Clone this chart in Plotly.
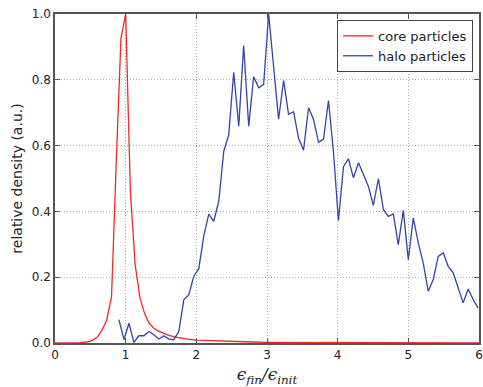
import plotly.graph_objects as go

# core particles
core_x = [0.0, 0.2, 0.35, 0.45, 0.53, 0.6, 0.667, 0.733, 0.8, 0.867, 0.933, 1.0,
          1.067, 1.133, 1.2, 1.267, 1.333, 1.4, 1.467, 1.533, 1.6, 1.7, 1.8, 1.9,
          2.0, 2.2, 2.4, 2.6, 2.8, 3.0, 3.5, 4.0, 5.0, 6.0]
core_y = [0.0, 0.0, 0.001, 0.003, 0.008, 0.018, 0.04, 0.07, 0.14, 0.55, 0.925, 1.0,
          0.46, 0.24, 0.14, 0.09, 0.06, 0.045, 0.036, 0.03, 0.024, 0.018, 0.014, 0.011,
          0.009, 0.007, 0.005, 0.004, 0.003, 0.002, 0.0015, 0.001, 0.0007, 0.0005]

# halo particles
halo_x = [0.905, 0.976, 1.046, 1.117, 1.187, 1.258, 1.329, 1.399, 1.47, 1.54,
          1.611, 1.681, 1.752, 1.823, 1.893, 1.964, 2.035, 2.105, 2.176, 2.246,
          2.317, 2.388, 2.458, 2.529, 2.6, 2.67, 2.741, 2.811, 2.882, 2.953,
          3.023, 3.094, 3.164, 3.235, 3.305, 3.376, 3.447, 3.517, 3.588, 3.658,
          3.729, 3.8, 3.87, 3.941, 4.011, 4.082, 4.152, 4.223, 4.294, 4.364,
          4.435, 4.505, 4.576, 4.647, 4.717, 4.788, 4.858, 4.929, 5.0, 5.07,
          5.141, 5.211, 5.282, 5.353, 5.423, 5.494, 5.564, 5.635, 5.706, 5.776,
          5.847, 5.917, 5.988]
halo_y = [0.071, 0.01, 0.06, 0.002, 0.022, 0.022, 0.035, 0.025, 0.012, 0.022,
          0.012, 0.01, 0.035, 0.132, 0.146, 0.203, 0.226, 0.325, 0.392, 0.37,
          0.43, 0.583, 0.632, 0.823, 0.659, 0.904, 0.659, 0.809, 0.776, 0.786,
          1.0, 0.84, 0.68, 0.798, 0.695, 0.703, 0.622, 0.586, 0.715, 0.68,
          0.61, 0.62, 0.737, 0.58, 0.372, 0.536, 0.56, 0.502, 0.548, 0.513,
          0.476, 0.418, 0.5, 0.405, 0.385, 0.392, 0.299, 0.403, 0.253, 0.38,
          0.304, 0.243, 0.157, 0.193, 0.263, 0.274, 0.233, 0.213, 0.167, 0.122,
          0.164, 0.132, 0.106]

x_ticks = [0, 1, 2, 3, 4, 5, 6]
y_ticks = [0.0, 0.2, 0.4, 0.6, 0.8, 1.0]

fig = go.Figure()
fig.add_trace(go.Scatter(x=core_x, y=core_y, mode="lines", name="core particles",
                         line=dict(color="#f02828", width=1.3)))
fig.add_trace(go.Scatter(x=halo_x, y=halo_y, mode="lines", name="halo particles",
                         line=dict(color="#3444a6", width=1.3)))

axis_common = dict(
    showline=True, linecolor="#555555", linewidth=1.5, mirror="ticks",
    ticks="inside", ticklen=5, tickcolor="#555555", tickwidth=1,
    showgrid=True, gridcolor="#b0b0b0", griddash="1px,2px", gridwidth=1,
    zeroline=False, automargin=False, ticklabeloverflow="allow",
    tickfont=dict(family="DejaVu Sans", size=12, color="#222222"),
)

fig.update_xaxes(range=[0, 6], tickvals=x_ticks, ticktext=[str(v) for v in x_ticks],
                 title=dict(text="<i>ϵ<sub>fin</sub>/ϵ<sub>init</sub></i>",
                            font=dict(family="DejaVu Serif", size=17, color="#222222"),
                            standoff=8),
                 **axis_common)
fig.update_yaxes(range=[0, 1.0], tickvals=y_ticks, ticktext=[f"{v:.1f}" for v in y_ticks],
                 title=dict(text="relative density (a.u.)",
                            font=dict(family="DejaVu Sans", size=14, color="#222222"),
                            standoff=6),
                 **axis_common)

fig.update_layout(
    width=483, height=387,
    margin=dict(l=55, r=4, t=14, b=44),
    paper_bgcolor="white", plot_bgcolor="white",
    showlegend=True,
    legend=dict(x=0.986, y=0.982, xanchor="right", yanchor="top",
                bgcolor="white", bordercolor="#444444", borderwidth=1,
                font=dict(family="DejaVu Sans", size=13, color="#222222"),
                tracegroupgap=0, itemwidth=30),
)

fig.write_html("out.html")
